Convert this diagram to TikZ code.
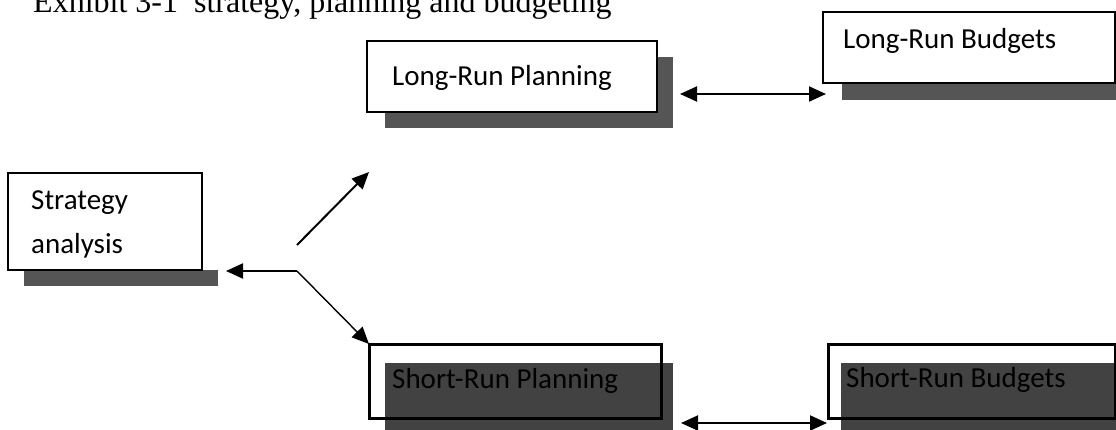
\documentclass[tikz,border=0pt]{standalone}
\usepackage{fontspec}
\setmainfont{Carlito}
\newfontfamily\titlefont{Liberation Serif}
\usetikzlibrary{arrows.meta}
\definecolor{shadowgray}{RGB}{85,85,85}
\definecolor{darkfill}{RGB}{66,66,66}
\begin{document}
\begin{tikzpicture}[x=1pt,y=-1pt,
  box/.style={draw=black, line width=1.5pt, fill=white, inner sep=0pt, outer sep=0pt},
  thickbox/.style={draw=black, line width=3pt, inner sep=0pt, outer sep=0pt},
  lbl/.style={inner sep=0pt, anchor=base west, font=\fontsize{29}{35}\selectfont},
  tip/.tip={Triangle[length=17pt,width=15pt]},
  arr/.style={line width=2pt, -tip},
  darr/.style={line width=2pt, tip-tip}
]
\clip (0,0) rectangle (1116,429);
\fill[white] (0,0) rectangle (1116,429);

% title
\node[inner sep=0pt, anchor=base west, font=\titlefont\fontsize{32}{38}\selectfont] (title) at (33,12) {Exhibit 3-1\ \ strategy, planning and budgeting};

% Long-Run Planning
\fill[shadowgray] (385,57) rectangle (673,128);
\node[box, minimum width=290pt, minimum height=71pt] (lrp) at (512,76.5) {};
\node[lbl] (lrpt) at (392,85) {Long-Run Planning};

% Long-Run Budgets
\fill[shadowgray] (842,28) rectangle (1120,100);
\node[box, minimum width=292pt, minimum height=71pt] (lrb) at (969,47.5) {};
\node[lbl] (lrbt) at (843,48) {Long-Run Budgets};

% Strategy analysis
\fill[shadowgray] (24,270) rectangle (218,286);
\node[box, minimum width=194pt, minimum height=97pt] (sa) at (105,221.5) {};
\node[lbl] (sat1) at (31,209) {Strategy};
\node[lbl] (sat2) at (31,253) {analysis};

% Short-Run Planning
\fill[darkfill] (385,363) rectangle (673,440);
\node[thickbox, minimum width=292pt, minimum height=74pt] (srp) at (515,381) {};
\node[lbl] (srpt) at (392,388) {Short-Run Planning};

% Short-Run Budgets
\fill[darkfill] (841,363) rectangle (1120,440);
\node[thickbox, minimum width=287pt, minimum height=74pt] (srb) at (971.5,381) {};
\node[lbl] (srbt) at (846,387) {Short-Run Budgets};

% connectors
\coordinate (j) at (297,271);
\coordinate (ju) at (297,245);
\coordinate (saIn) at (226,271);
\coordinate (lrpIn) at (369,172);
\coordinate (srpIn) at (369,344);
\coordinate (topL) at (680,94);
\coordinate (topR) at (826,94);
\coordinate (botL) at (681,423);
\coordinate (botR) at (827,423);

\draw[arr] (j) -- (saIn);
\draw[arr] (ju) -- (lrpIn);
\draw[arr, line width=1.4pt] (j) -- (srpIn);
\draw[darr] (topL) -- (topR);
\draw[darr] (botL) -- (botR);
\end{tikzpicture}
\end{document}
